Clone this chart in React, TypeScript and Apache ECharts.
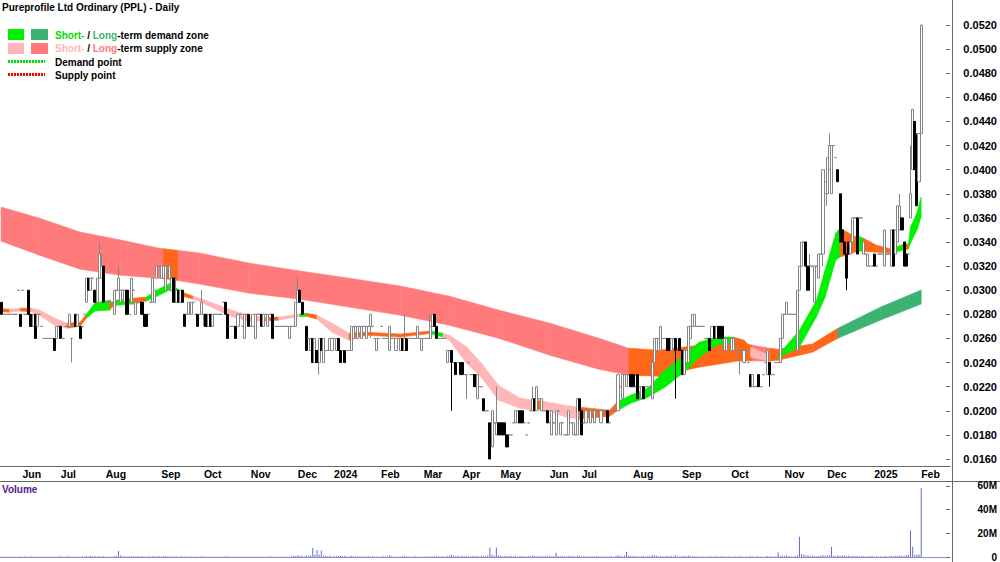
import React, { useEffect, useRef } from 'react';
import * as echarts from 'echarts';

const FONT = '"Liberation Sans", Arial, sans-serif';
const TITLE = 'Pureprofile Ltd Ordinary (PPL) - Daily';
const N_SLOTS = 445;

// month label -> first trading-day slot
const monthTicks: [string, number][] = [
  ['Jun', 10], ['Jul', 28], ['Aug', 49], ['Sep', 75], ['Oct', 95], ['Nov', 117], ['Dec', 139],
  ['2024', 156], ['Feb', 178], ['Mar', 198], ['Apr', 216], ['May', 234], ['Jun', 257], ['Jul', 272],
  ['Aug', 296], ['Sep', 319], ['Oct', 342], ['Nov', 367], ['Dec', 387], ['2025', 409], ['Feb', 431],
];

// daily candles [open, high, low, close] in 0.001 AUD
const candles: number[][] = [
  [29,29,28,28],[28,28,28,28],[28,28,28,28],[28,28,28,28],[28,28,28,28],[28,28,28,28],[28,28,28,28],[28,28,28,28],[30,30,30,30],[28,28,27,27],
  [30,30,30,30],[28,28,28,28],[28,28,28,28],[30,30,28,28],[28,28,27,27],[27,28,27,28],[28,28,26,26],[27,28,27,28],[28,28,28,28],[27,27,27,27],
  [26,26,26,26],[26,26,26,26],[26,26,26,26],[26,26,26,26],[26,26,26,26],[26,26,25,25],[26,27,26,27],[27,27,27,27],[27,27,26,26],[26,26,26,26],
  [27,27,27,27],[27,27,27,27],[27,28,27,28],[26,26,24,26],[27,27,27,27],[28,28,27,27],[27,28,27,28],[27,27,26,26],[27,27,27,27],[28,28,28,28],
  [29,31,29,31],[31,31,30,30],[30,31,30,31],[31,31,31,31],[30,30,29,29],[29,31,29,31],[31,34,31,33],[31,33,31,32],[32,32,29,29],[29,29,29,29],
  [29,29,29,29],[29,29,29,29],[29,29,29,29],[28,30,28,30],[30,30,30,30],[30,32,30,31],[29,30,29,30],[30,30,30,30],[29,30,29,30],[30,30,28,28],
  [28,28,28,28],[29,31,29,31],[30,30,30,30],[28,29,28,29],[29,29,29,29],[29,29,29,29],[29,29,28,28],[28,28,27,27],[28,28,27,27],[28,28,28,28],
  [29,29,29,29],[29,31,29,31],[29,30,29,30],[31,32,31,32],[32,32,32,32],[31,32,31,32],[31,32,31,32],[30,32,30,32],[32,32,32,32],[31,32,31,32],
  [30,31,30,31],[31,31,29,29],[29,31,29,30],[30,30,29,29],[29,30,29,30],[30,30,29,29],[28,28,27,27],[28,28,28,28],[28,29,28,29],[28,29,28,29],
  [29,29,29,29],[28,28,28,28],[28,28,27,27],[28,28,28,28],[28,30,28,29],[28,28,27,28],[28,28,27,27],[27,28,27,28],[28,28,27,27],[27,28,27,28],
  [28,28,28,28],[28,28,28,28],[28,28,28,28],[28,28,28,28],[29,29,29,29],[29,29,28,28],[28,28,26,26],[27,27,27,27],[27,27,27,27],[27,27,27,27],
  [27,27,26,26],[27,28,27,28],[28,28,28,28],[27,27,27,27],[26,28,26,28],[28,28,28,28],[28,28,27,27],[27,27,27,27],[27,28,27,28],[26,28,26,28],
  [28,28,28,28],[28,28,28,28],[28,28,27,27],[27,28,27,28],[28,28,28,28],[27,28,27,28],[28,28,28,28],[28,28,26,26],[27,27,27,27],[27,27,27,27],
  [27,27,27,27],[27,27,27,27],[27,27,27,27],[27,27,27,27],[27,27,27,27],[26,27,26,27],[27,27,27,27],[27,27,27,27],[27,29,27,29],[29,31,29,30],
  [30,30,29,29],[29,29,28,28],[28,28,28,28],[27,27,25,25],[26,26,26,26],[25,26,25,26],[26,26,24,24],[24,26,24,26],[25,25,24,24],[24,26,23,26],
  [26,26,25,25],[24,26,24,26],[25,25,25,25],[25,25,25,25],[25,26,25,26],[25,26,25,26],[26,26,26,26],[25,26,25,26],[26,26,25,25],[25,25,24,24],
  [25,25,25,25],[25,25,24,24],[25,25,25,25],[25,25,25,25],[25,27,25,27],[26,27,26,27],[27,27,27,27],[26,27,26,27],[27,27,27,27],[26,27,26,27],
  [27,27,27,27],[26,27,26,27],[27,27,27,27],[27,28,26,28],[27,27,27,27],[26,26,26,26],[25,26,25,26],[26,26,26,26],[27,27,27,27],[26,26,26,26],
  [26,26,26,26],[26,26,26,26],[25,27,25,27],[26,26,26,26],[26,26,26,26],[25,26,25,26],[26,26,26,26],[25,26,25,26],[26,26,25,25],[25,28,25,26],
  [26,26,25,25],[26,26,26,26],[26,26,26,26],[26,26,26,26],[26,26,26,26],[26,27,26,27],[26,26,26,26],[25,26,25,26],[26,26,26,26],[26,26,26,26],
  [26,26,26,26],[26,28,26,27],[27,28,27,28],[28,28,27,27],[27,27,26,26],[26,26,26,26],[26,26,26,26],[26,26,26,26],[26,26,26,26],[24,25,24,25],
  [25,25,25,25],[25,25,20,24],[24,24,24,24],[24,24,23,23],[24,24,24,24],[24,24,23,23],[24,24,23,23],[23,23,23,23],[23,23,21,23],[24,24,24,24],
  [23,23,23,23],[23,23,23,23],[23,23,22,22],[21,23,21,23],[22,22,22,22],[22,22,22,22],[21,21,20,20],[20,20,20,20],[20,20,20,20],[19,19,16,16],
  [17,20,17,20],[19,19,19,19],[18,22,18,19],[19,19,18,18],[19,19,18,18],[19,19,18,18],[19,19,18,18],[18,18,17,17],[18,18,18,18],[18,18,18,18],
  [19,19,19,19],[19,20,19,20],[19,20,19,20],[20,20,19,19],[20,20,19,19],[19,19,19,19],[18,18,18,18],[19,19,19,19],[20,20,20,20],[20,22,20,21],
  [21,21,20,20],[20,22,20,22],[21,21,21,21],[20,21,20,21],[20,20,20,20],[20,20,20,20],[20,20,19,19],[19,19,19,19],[18,20,18,20],[19,19,19,19],
  [18,20,18,20],[20,20,20,20],[18,19,18,19],[19,19,19,19],[18,18,18,18],[18,18,18,18],[18,20,18,20],[19,19,19,19],[18,19,18,19],[18,18,18,18],
  [18,21,18,21],[21,21,20,20],[20,20,18,18],[19,19,19,19],[19,20,19,20],[20,20,20,20],[19,20,19,20],[20,20,20,20],[19,20,19,20],[20,20,20,20],
  [20,20,20,20],[19,20,19,20],[20,20,20,20],[20,20,20,20],[20,20,19,19],[19,19,19,19],[20,20,20,20],[20,20,20,20],[20,20,20,20],[20,23,20,23],
  [22,22,22,22],[21,23,21,23],[23,23,23,23],[22,23,22,23],[23,23,23,23],[23,23,22,22],[23,23,22,22],[22,22,22,22],[23,23,21,21],[22,22,22,22],
  [21,22,21,22],[22,22,21,21],[22,22,22,22],[22,22,22,22],[22,22,22,22],[21,24,21,24],[24,26,24,26],[25,26,25,26],[26,26,26,26],[25,27,25,27],
  [26,26,26,26],[26,26,26,26],[26,26,25,25],[26,26,25,25],[25,26,25,26],[26,26,26,26],[26,26,21,25],[25,25,25,25],[26,26,25,25],[25,25,23,23],
  [23,25,23,25],[24,25,24,25],[24,27,24,27],[26,27,26,27],[27,28,27,28],[27,28,27,28],[27,27,27,27],[27,27,27,27],[27,27,27,27],[27,27,27,27],
  [26,26,26,26],[26,26,26,26],[26,26,25,25],[26,27,26,27],[27,27,26,26],[26,27,26,27],[27,27,26,26],[27,27,26,26],[27,27,26,26],[25,26,25,26],
  [25,26,25,26],[26,26,26,26],[25,26,25,26],[25,26,25,26],[25,25,25,25],[25,25,25,25],[25,25,23,25],[25,25,25,25],[24,25,24,25],[25,25,25,25],
  [24,24,24,24],[23,23,22,22],[22,23,22,23],[22,22,22,22],[22,22,22,22],[23,23,22,22],[22,22,22,22],[23,23,23,23],[24,24,24,24],[23,25,23,25],
  [24,24,22,23],[23,23,23,23],[23,23,23,23],[24,24,24,24],[24,24,24,24],[24,26,24,26],[26,28,26,28],[28,28,28,28],[28,29,28,29],[28,28,28,28],
  [28,28,28,28],[28,28,28,28],[28,28,28,28],[25,30,25,30],[30,32,30,32],[32,34,32,34],[34,34,34,34],[34,34,32,32],[32,32,30,30],[32,33,32,32],
  [32,32,32,32],[29,32,29,32],[32,32,32,32],[31,33,31,33],[33,33,33,33],[33,40,32,40],[38,39,38,39],[38,41,37,41],[40,43,40,42],[38,42,38,42],
  [42,42,42,42],[41,41,41,41],[40,40,39,39],[38,38,34,34],[35,35,34,34],[34,34,33,33],[33,33,30,31],[34,34,33,33],[33,34,33,34],[34,36,34,36],
  [36,36,36,36],[36,36,33,33],[36,36,36,36],[36,36,36,36],[33,34,33,34],[33,33,33,33],[32,33,32,33],[32,32,32,32],[32,32,32,32],[33,33,32,32],
  [32,32,32,32],[33,33,33,33],[33,33,33,33],[33,33,33,33],[32,35,32,35],[33,33,33,33],[33,33,33,33],[32,35,32,35],[35,35,32,32],[33,35,33,35],
  [34,37,34,37],[35,38,35,37],[36,36,35,35],[34,34,32,32],[33,33,32,32],[33,33,33,33],[36,42,36,38],[40,45,40,45],[44,44,40,40],[40,43,37,37],
  [39,43,39,43],[43,52,43,52],
];

// daily volume in units of 100,000 shares
const volume: number[] = [
  4,3,2,3,5,2,3,4,2,6, 3,5,2,4,6,3,2,5,3,4, 2,3,4,2,3,5,3,6,4,2, 3,9,4,3,5,2,4,3,6,4,
  8,5,12,6,9,4,7,5,6,4, 3,5,4,6,8,50,12,6,4,5, 7,4,9,5,6,4,8,5,3,6, 5,7,4,6,9,5,6,8,4,7,
  5,4,6,3,5,7,4,3,5,4, 3,4,5,3,6,4,3,5,4,3, 4,2,3,5,3,4,6,3,2,4, 3,5,4,3,2,4,3,5,4,3,
  4,3,5,2,4,3,6,4,3,2, 3,2,4,3,5,4,6,8,9,15, 10,8,6,12,9,14,75,20,60,18, 55,12,8,6,10,5,7,9,6,8,
  6,10,5,4,8,6,5,7,4,6, 5,4,7,5,6,4,5,3,4,6, 4,5,15,6,4,3,5,4,6,8, 5,4,3,5,6,4,3,5,4,6,
  5,6,4,8,5,6,4,7,5,9, 12,20,8,6,10,7,9,6,8,5, 7,9,6,8,5,10,7,9,12,80, 20,10,80,15,9,7,10,8,6,9,
  6,8,5,7,9,6,5,8,6,10, 9,7,6,8,5,10,7,9,6,8, 35,8,6,9,5,7,10,6,8,5, 12,8,6,9,5,7,6,4,5,8,
  6,4,7,5,3,6,4,5,8,15, 9,7,12,45,10,8,9,6,7,5, 6,8,5,9,7,14,15,10,6,8, 7,5,9,6,8,6,15,7,5,9,
  8,6,10,7,5,6,4,5,3,4, 5,3,6,4,5,6,4,5,7,4, 5,6,4,3,5,4,6,5,3,4, 5,8,4,3,6,5,4,3,5,9,
  8,5,4,6,40,10,12,8,14,6, 5,4,6,15,170,25,18,12,14,9, 8,10,6,9,12,15,10,12,14,87, 10,8,12,9,14,10,8,11,7,9,
  8,10,7,6,9,5,7,6,8,5, 6,5,7,4,8,5,6,9,7,8, 10,12,8,9,14,18,223,87,20,18, 22,580,
];

// long-term zone: slot, upper, lower (0.001 AUD), colour of following segment
const longIdx = [0, 18, 37, 56, 74, 76, 83, 93, 116, 140, 163, 187, 210, 233, 257, 280, 294, 308, 327, 345, 352, 360, 364, 380, 392, 412, 431];
const longHi = [36.9, 35.98, 34.82, 34.16, 33.49, 33.45, 33.3, 33.08, 32.25, 31.59, 31.0, 30.34, 29.51, 28.35, 27.27, 26.02, 25.19, 25.03, 25.44, 25.69, 25.44, 25.19, 25.11, 25.53, 26.85, 28.6, 30.01];
const longLo = [34.07, 32.91, 31.75, 31.25, 31.0, 30.97, 30.8, 30.51, 29.76, 29.26, 28.6, 27.93, 27.1, 26.02, 24.61, 23.45, 22.95, 22.87, 23.62, 24.12, 24.14, 24.12, 24.2, 24.86, 26.02, 27.52, 28.85];
const longCol = ['LS','LS','LS','LS','LS','N','LS','LS','LS','LS','LS','LS','LS','LS','LS','LS','N','N','N','N','LS','N','N','N','LD','LD'];

// short-term zone
const shortIdx = [0, 4, 9, 14, 18, 25, 31, 37, 40, 44, 51, 52, 54, 62, 68, 73, 79, 85, 90, 93, 108, 116, 124, 130, 140, 143, 148, 155, 163, 171, 187, 201, 207, 210, 218, 225, 233, 243, 249, 254, 264, 271, 285, 289, 295, 303, 311, 321, 327, 335, 343, 348, 351, 360, 364, 374, 382, 386, 391, 393, 400, 402, 404, 410, 417, 423, 425, 426, 429, 431];
const shortHi = [28.47, 28.43, 28.51, 28.51, 28.35, 27.68, 27.27, 27.35, 28.02, 28.93, 29.18, 28.93, 29.18, 29.34, 29.43, 30.01, 30.55, 29.84, 29.51, 29.34, 28.35, 27.93, 27.73, 27.77, 28.02, 28.1, 27.93, 27.27, 26.44, 26.52, 26.36, 26.61, 26.44, 26.27, 25.32, 23.95, 22.12, 21.05, 20.88, 20.8, 20.46, 20.3, 20.05, 20.8, 21.29, 21.88, 23.37, 24.78, 25.69, 26.11, 26.11, 25.86, 25.28, 24.61, 24.61, 26.69, 29.18, 31.67, 34.74, 35.15, 34.45, 34.45, 34.32, 33.74, 33.41, 33.83, 33.83, 35.24, 36.4, 37.73];
const shortLo = [28.22, 28.18, 28.27, 28.22, 27.93, 27.1, 26.85, 27.02, 27.68, 28.27, 28.35, 28.6, 28.76, 28.85, 29.1, 29.51, 30.01, 29.51, 29.26, 29.05, 27.81, 27.44, 27.44, 27.52, 27.81, 27.85, 27.6, 26.52, 25.86, 26.27, 26.11, 26.4, 26.11, 25.86, 23.95, 22.79, 20.88, 20.22, 20.05, 20.13, 19.51, 19.3, 19.55, 20.05, 20.63, 21.13, 21.96, 23.37, 24.45, 25.44, 25.61, 25.28, 24.45, 24.12, 24.37, 25.28, 27.81, 29.43, 32.5, 32.75, 33.16, 33.24, 33.24, 33.16, 33.08, 33.33, 33.41, 33.91, 34.99, 36.07];
const shortCol = ['N','SS','N','SS','SS','SS','N','N','SD','SD','N','N','SD','N','SD','SD','SD','N','SS','SS','SS','SS','N','SS','SD','N','SS','SS','N','N','N','SD','SS','SS','SS','SS','SS','SS','N','SS','SS','N','N','SD','SD','SD','SD','SD','SD','SD','N','N','SS','N','SD','SD','SD','SD','SD','N','N','SD','N','N','SD','N','SD','SD','SD'];

const zoneColors: Record<string, string> = {
  LS: '#ff7a7a', LD: '#3cb371', SS: '#ffb6b6', SD: '#00f000', N: '#ff661a',
};

function bandSeries(idx: number[], hi: number[], lo: number[], col: string[], name: string) {
  const data: number[][] = [];
  for (let k = 0; k < idx.length - 1; k++) {
    data.push([idx[k], hi[k] / 1000, lo[k] / 1000, idx[k + 1], hi[k + 1] / 1000, lo[k + 1] / 1000]);
  }
  return {
    type: 'custom',
    name,
    xAxisIndex: 0,
    yAxisIndex: 0,
    silent: true,
    encode: { x: [0, 3], y: [1, 2, 4, 5] },
    renderItem: (params: any, api: any) => {
      const a = api.coord([api.value(0), api.value(1)]);
      const b = api.coord([api.value(3), api.value(4)]);
      const c = api.coord([api.value(3), api.value(5)]);
      const d = api.coord([api.value(0), api.value(2)]);
      const color = zoneColors[col[params.dataIndex]];
      return {
        type: 'polygon',
        shape: { points: [a, b, c, d] },
        style: { fill: color, stroke: color, lineWidth: 0.6 },
      };
    },
    data,
  };
}

export default function App() {
  const ref = useRef<HTMLDivElement>(null);
  useEffect(() => {
    if (!ref.current) return;
    const chart = echarts.init(ref.current, undefined, { renderer: 'svg' });
    const cats = Array.from({ length: N_SLOTS }, (_, i) => 's' + i);
    const labelMap: Record<number, string> = {};
    monthTicks.forEach(([m, i]) => { labelMap[i] = m; });
    const isTick = (i: number) => labelMap[i] !== undefined;
    const bold = { fontFamily: FONT, fontWeight: 'bold' as const, color: '#000' };

    chart.setOption({
      animation: false,
      backgroundColor: '#ffffff',
      grid: [
        { left: 0, right: 48, top: 25, bottom: 103 },
        { left: 0, right: 48, top: 482, bottom: 4 },
      ],
      xAxis: [
        {
          type: 'category', gridIndex: 0, data: cats, boundaryGap: true, offset: 7,
          axisLine: { lineStyle: { color: '#666', width: 1 } },
          axisTick: { interval: (i: number) => isTick(i), length: 3, lineStyle: { color: '#666' } },
          axisLabel: {
            interval: (i: number) => isTick(i), formatter: (_v: string, i: number) => labelMap[i] ?? '',
            align: 'left', margin: 2, fontSize: 10.5, ...bold,
          },
          splitLine: { show: false },
        },
        {
          type: 'category', gridIndex: 1, data: cats, boundaryGap: true,
          axisLine: { show: true, lineStyle: { color: '#8c8ce0', width: 1 } },
          axisTick: { show: false }, axisLabel: { show: false }, splitLine: { show: false },
        },
      ],
      yAxis: [
        {
          type: 'value', gridIndex: 0, position: 'right', min: 0.016, max: 0.052, interval: 0.002,
          axisLine: { show: false },
          axisTick: { show: true, inside: true, length: 4, lineStyle: { color: '#666' } },
          axisLabel: { align: 'right', margin: 47, fontSize: 11, ...bold, formatter: (v: number) => v.toFixed(4) },
          splitLine: { show: false },
        },
        {
          type: 'value', gridIndex: 1, position: 'right', min: 0, max: 63.33e6, interval: 20e6,
          axisLine: { show: false },
          axisTick: { show: true, inside: true, length: 4, lineStyle: { color: '#666' } },
          axisLabel: {
            align: 'right', margin: 47, fontSize: 10, ...bold, showMaxLabel: false,
            formatter: (v: number) => (v === 0 ? '0' : Math.abs(v % 20e6) < 1 ? v / 1e6 + 'M' : ''),
          },
          splitLine: { show: false },
        },
      ],
      series: [
        bandSeries(longIdx, longHi, longLo, longCol, 'long zone'),
        bandSeries(shortIdx, shortHi, shortLo, shortCol, 'short zone'),
        {
          type: 'candlestick', name: 'PPL', xAxisIndex: 0, yAxisIndex: 0, silent: true,
          barWidth: 2.6,
          data: candles.map(([o, h, l, c]) => [o / 1000, c / 1000, l / 1000, h / 1000]),
          itemStyle: {
            color: '#ffffff', color0: '#000000', borderColor: '#858585', borderColor0: '#000000',
            borderColorDoji: '#858585', borderWidth: 1,
          },
        },
        {
          type: 'bar', name: 'Volume', xAxisIndex: 1, yAxisIndex: 1, silent: true,
          barWidth: 1, data: volume.map((v) => v * 1e5), itemStyle: { color: '#6a6ad4' },
        },
      ],
      graphic: [
        { type: 'line', shape: { x1: 952.5, y1: 0, x2: 952.5, y2: 562 }, style: { stroke: '#666', lineWidth: 1 } },
        { type: 'line', shape: { x1: 0, y1: 481.5, x2: 1000, y2: 481.5 }, style: { stroke: '#666', lineWidth: 1 } },
        { type: 'text', x: 2, y: 7, style: { text: TITLE, fill: '#000', fontSize: 10, fontWeight: 'bold', fontFamily: FONT, verticalAlign: 'middle' } },
        { type: 'rect', shape: { x: 8, y: 29, width: 16, height: 11 }, style: { fill: zoneColors.SD } },
        { type: 'rect', shape: { x: 31, y: 29, width: 17, height: 11 }, style: { fill: zoneColors.LD } },
        { type: 'rect', shape: { x: 8, y: 43, width: 16, height: 11 }, style: { fill: zoneColors.SS } },
        { type: 'rect', shape: { x: 31, y: 43, width: 17, height: 11 }, style: { fill: zoneColors.LS } },
        { type: 'line', shape: { x1: 8, y1: 61.5, x2: 45, y2: 61.5 }, style: { stroke: '#00e000', lineWidth: 3, lineDash: [2, 1] } },
        { type: 'line', shape: { x1: 8, y1: 74.5, x2: 45, y2: 74.5 }, style: { stroke: '#ff0000', lineWidth: 3, lineDash: [2, 1] } },
        {
          type: 'text', x: 55, y: 35,
          style: {
            text: '{a|Short-} / {b|Long}-term demand zone', fill: '#000', fontSize: 10, fontWeight: 'bold', fontFamily: FONT, verticalAlign: 'middle',
            rich: {
              a: { fill: '#00e000', fontSize: 10, fontWeight: 'bold', fontFamily: FONT },
              b: { fill: '#3cb371', fontSize: 10, fontWeight: 'bold', fontFamily: FONT },
            },
          },
        },
        {
          type: 'text', x: 55, y: 48.5,
          style: {
            text: '{a|Short-} / {b|Long}-term supply zone', fill: '#000', fontSize: 10, fontWeight: 'bold', fontFamily: FONT, verticalAlign: 'middle',
            rich: {
              a: { fill: '#ffb6b6', fontSize: 10, fontWeight: 'bold', fontFamily: FONT },
              b: { fill: '#ff7a7a', fontSize: 10, fontWeight: 'bold', fontFamily: FONT },
            },
          },
        },
        { type: 'text', x: 55, y: 62, style: { text: 'Demand point', fill: '#000', fontSize: 10, fontWeight: 'bold', fontFamily: FONT, verticalAlign: 'middle' } },
        { type: 'text', x: 55, y: 75, style: { text: 'Supply point', fill: '#000', fontSize: 10, fontWeight: 'bold', fontFamily: FONT, verticalAlign: 'middle' } },
        { type: 'text', x: 2, y: 489, style: { text: 'Volume', fill: '#551a8b', fontSize: 10, fontWeight: 'bold', fontFamily: FONT, verticalAlign: 'middle' } },
      ],
    });
    return () => chart.dispose();
  }, []);
  return <div ref={ref} style={{ position: 'fixed', left: 0, top: 0, width: 1000, height: 562, background: '#fff' }} />;
}
